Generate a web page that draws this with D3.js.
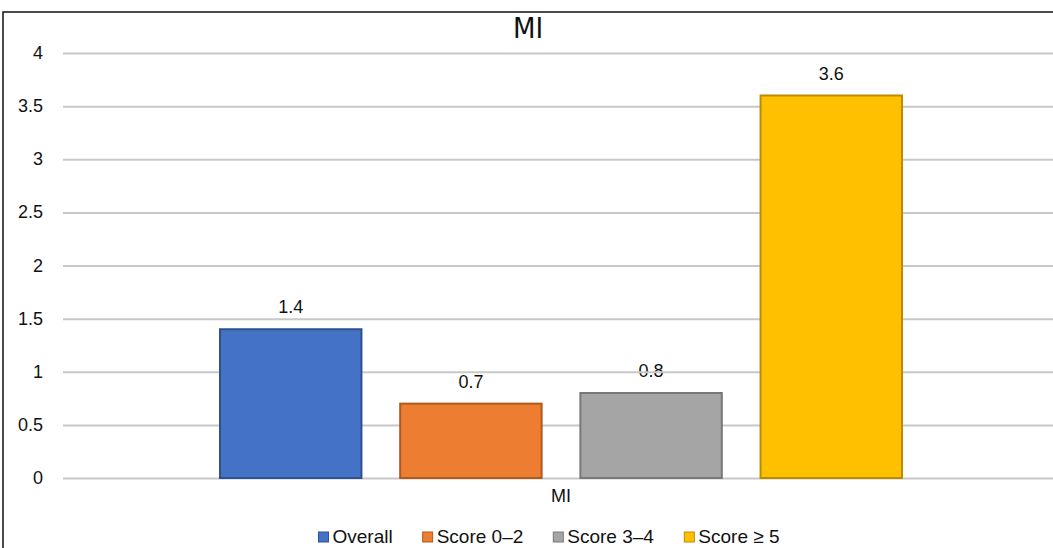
<!DOCTYPE html>
<html>
<head>
<meta charset="utf-8">
<script src="https://cdn.jsdelivr.net/npm/d3@7"></script>
<style>
  html, body { margin: 0; padding: 0; background: #fff; }
  svg { display: block; }
  text { font-family: "Liberation Sans", Arial, sans-serif; fill: #111; }
</style>
</head>
<body>
<svg id="chart" width="1053" height="548"></svg>
<script>
// Chart data
const category = "MI";
const seriesNames = ["Overall", "Score 0–2", "Score 3–4", "Score ≥ 5"];
const seriesValues = [1.4, 0.7, 0.8, 3.6];
const seriesLabels = ["1.4", "0.7", "0.8", "3.6"];
const yTicks = [0, 0.5, 1, 1.5, 2, 2.5, 3, 3.5, 4];
const yTickLabels = ["0", "0.5", "1", "1.5", "2", "2.5", "3", "3.5", "4"];

const fills = ["#4472C4", "#ED7D31", "#A5A5A5", "#FFC000"];
const strokes = ["#2F528F", "#AE5A21", "#787878", "#BC8C00"];

const svg = d3.select("#chart");
const W = 1053, H = 548;

// outer frame
svg.append("rect")
  .attr("x", 3).attr("y", 12)
  .attr("width", W + 10).attr("height", H + 10)
  .attr("fill", "none").attr("stroke", "#111").attr("stroke-width", 1.5);

const plot = { left: 63, right: 1053, top: 53, bottom: 478 };

const y = d3.scaleLinear().domain([0, 4]).range([plot.bottom, plot.top]);

// category band, then series bands inside it
const x0 = d3.scaleBand().domain([category]).range([220, 902]);
const x1 = d3.scaleBand().domain(seriesNames)
  .range([x0(category), x0(category) + x0.bandwidth()])
  .paddingInner(0.215).paddingOuter(0);

// title
svg.append("text")
  .attr("x", 528).attr("y", 38)
  .attr("text-anchor", "middle")
  .style("font-family", "'Liberation Sans Narrow', 'DejaVu Sans Condensed', Arial, sans-serif")
  .style("font-size", "29px")
  .text(category);

// y axis labels
svg.append("g").selectAll("text")
  .data(yTicks)
  .join("text")
  .attr("x", 43)
  .attr("y", d => y(d) + 6)
  .attr("text-anchor", "end")
  .style("font-size", "18px")
  .text((d, i) => yTickLabels[i]);

// bar value labels (drawn beneath the gridlines)
const series = seriesNames.map((name, i) => ({ name, value: seriesValues[i], label: seriesLabels[i], i }));

svg.append("g").selectAll("text")
  .data(series)
  .join("text")
  .attr("x", d => x1(d.name) + x1.bandwidth() / 2)
  .attr("y", d => y(d.value) - 16)
  .attr("text-anchor", "middle")
  .style("font-size", "18px")
  .text(d => d.label);

// gridlines
svg.append("g")
  .attr("transform", `translate(${plot.left},0)`)
  .call(d3.axisLeft(y).tickValues(yTicks).tickSize(-(plot.right - plot.left)).tickFormat(""))
  .call(g => g.select(".domain").remove())
  .call(g => g.selectAll(".tick line").attr("stroke", "#c8c8c8").attr("stroke-width", 2));

// bars
svg.append("g").selectAll("rect")
  .data(series)
  .join("rect")
  .attr("x", d => x1(d.name))
  .attr("y", d => y(d.value))
  .attr("width", x1.bandwidth())
  .attr("height", d => y(0) - y(d.value))
  .attr("fill", d => fills[d.i])
  .attr("stroke", d => strokes[d.i])
  .attr("stroke-width", 2);

// x-axis category label
svg.append("text")
  .attr("x", 561).attr("y", 502)
  .attr("text-anchor", "middle")
  .style("font-size", "18px")
  .text(category);

// legend
const legend = svg.append("g");
const items = legend.selectAll("g")
  .data(series)
  .join("g");
items.append("rect")
  .attr("width", 10).attr("height", 10)
  .attr("y", -11)
  .attr("fill", d => fills[d.i])
  .attr("stroke", d => strokes[d.i])
  .attr("stroke-width", 1);
items.append("text")
  .attr("x", 14)
  .attr("y", 0)
  .style("font-size", "19px")
  .text(d => d.name);

let cursor = 0;
const gap = 30;
items.each(function () {
  const g = d3.select(this);
  g.attr("transform", `translate(${cursor},0)`);
  cursor += this.getBBox().width + gap;
});
const totalW = cursor - gap;
legend.attr("transform", `translate(${549 - totalW / 2},543)`);
</script>
</body>
</html>
